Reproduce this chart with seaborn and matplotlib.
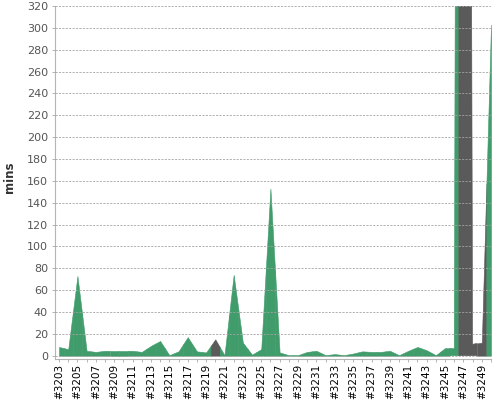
import numpy as np
import pandas as pd
import matplotlib
matplotlib.use('Agg')
import matplotlib.pyplot as plt
import seaborn as sns

# build numbers and durations (mins), status per build
builds = [f'#{n}' for n in range(3203, 3251)]
durations = [8, 6, 73, 4.5, 3.5, 4.5, 4.5, 4.5, 4.5, 3.5,
             9, 13.5, 0.5, 4, 17, 4, 3, 15, 0.5, 74,
             12, 1, 6, 153, 3, 0.5, 0.5, 3.5, 4.5, 0.5,
             1.5, 0.5, 2, 4, 3.5, 3.5, 4.5, 0.5, 4.5, 8,
             5, 0.5, 7, 6.5, 3000, 10.5, 12, 303]
status = ['ok'] * 48
for k in [17, 44, 45, 46]:
    status[k] = 'aborted'

colors = {'ok': '#409c6b', 'aborted': '#5a5a5a'}

df = pd.DataFrame({'build': builds, 'mins': durations, 'status': status})

sns.set_theme(style='white')
plt.rcParams['font.family'] = ['DejaVu Sans']

fig = plt.figure(figsize=(5, 4), dpi=100)
ax = fig.add_axes([55 / 500, 41 / 400, 436 / 500, 353 / 400])

# each build gets its own slice of the area, from midpoint to midpoint
n = len(df)
y = df['mins'].values
for k in range(n):
    xs, ys = [k], [y[k]]
    if k > 0:
        xs.insert(0, k - 0.5)
        ys.insert(0, (y[k - 1] + y[k]) / 2)
    if k < n - 1:
        xs.append(k + 0.5)
        ys.append((y[k] + y[k + 1]) / 2)
    c = colors[df['status'][k]]
    ax.fill_between(xs, 0, ys, color=c, lw=0.4, edgecolor=c, zorder=1)

ax.set_xlim(-0.44, n - 1)
ax.set_ylim(-3, 320)
ax.set_yticks(range(0, 321, 20))
ax.set_xticks(range(n))
ax.set_xticklabels([b if i % 2 == 0 else '' for i, b in enumerate(builds)],
                   rotation=90, va='top', ha='center', fontsize=7.5, color='black')
for lbl in ax.get_yticklabels():
    lbl.set_fontsize(8)
    lbl.set_color('#555555')

ax.set_axisbelow(False)
ax.yaxis.grid(True, color='#a3a3a3', linestyle=(0, (2.5, 1.6)), linewidth=0.6)
ax.xaxis.grid(False)

ax.tick_params(axis='x', length=2.5, width=0.6, color='#aaaaaa', pad=1, bottom=True)
ax.tick_params(axis='y', length=2, width=0.6, color='#aaaaaa', pad=3, left=True)

sns.despine(ax=ax)
for s in ['left', 'bottom']:
    ax.spines[s].set_color('#b5b5b5')
    ax.spines[s].set_linewidth(0.8)

ax.set_ylabel('mins', fontsize=8.5, fontweight='bold', color='#333333')
ax.yaxis.set_label_coords(-0.09, 0.515)
ax.set_xlabel('')

fig.savefig('out.png', dpi=100)
